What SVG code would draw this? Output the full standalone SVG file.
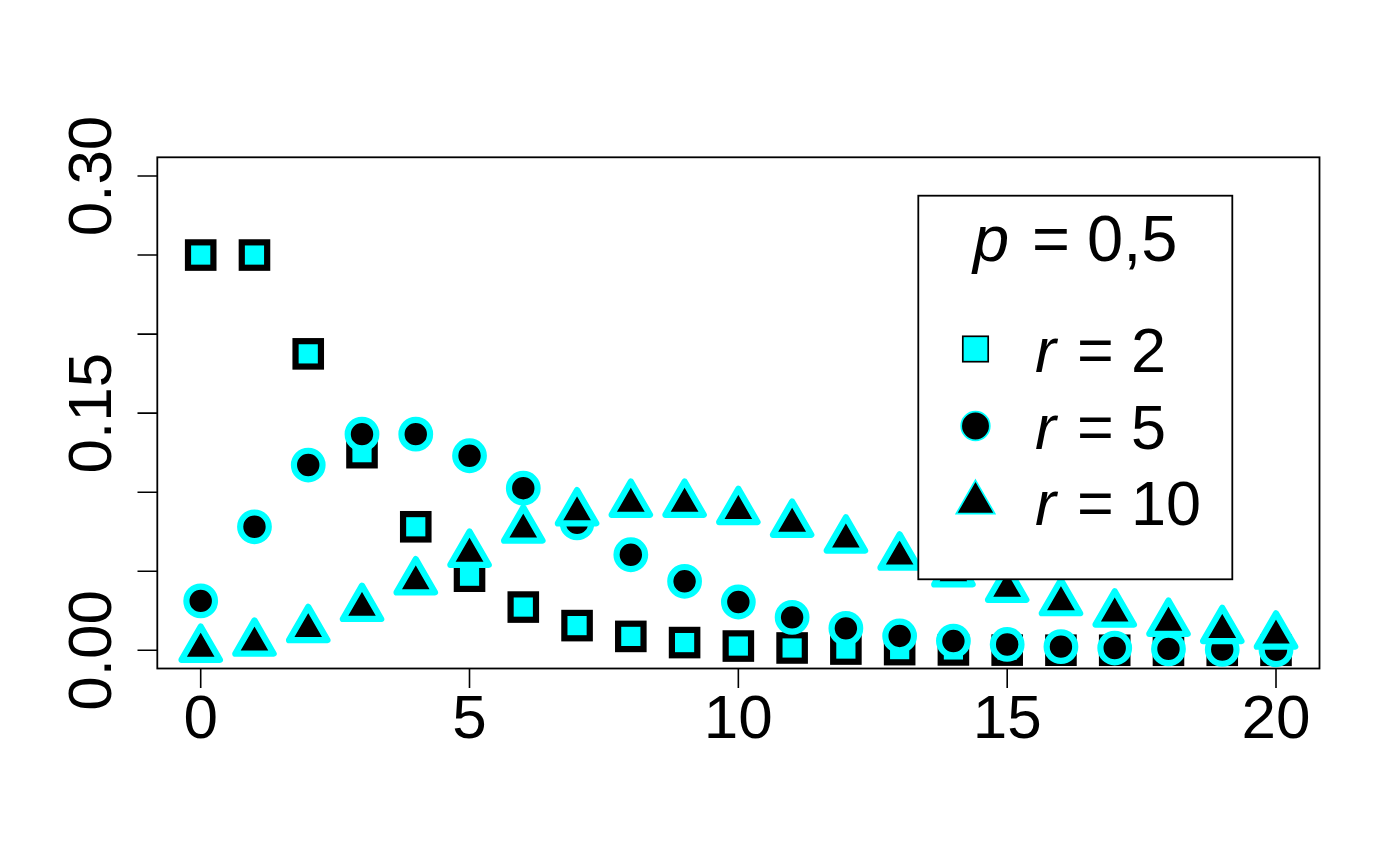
<svg xmlns="http://www.w3.org/2000/svg" xmlns:xlink="http://www.w3.org/1999/xlink" width="1400" height="865" viewBox="0 0 1400 865">
<style>
text{font-family:"Liberation Sans",Arial,Helvetica,sans-serif;fill:#000}
.tick{stroke:#000;stroke-width:1.6;fill:none}
.box{stroke:#000;stroke-width:1.8;fill:none}
.lab{font-size:62px}
.leg{font-size:63px}
.ttl{font-size:65px}
.it{font-style:italic}
.sq{fill:#00FFFF;stroke:#000;stroke-width:6.2;stroke-linejoin:miter}
.ci{fill:#000;stroke:#00FFFF;stroke-width:6.2}
.tr{fill:#000;stroke:#00FFFF;stroke-width:6.2;stroke-linejoin:round}
.lsq{fill:#00FFFF;stroke:#000;stroke-width:1.7}
.lci{fill:#000;stroke:#00FFFF;stroke-width:1.7}
.ltr{fill:#000;stroke:#00FFFF;stroke-width:1.7}
</style>
<defs>
<rect id="msq" x="-12.7" y="-12.7" width="25.4" height="25.4"/>
<circle id="mci" cx="0" cy="0" r="14.3"/>
<polygon id="mtr" points="0,-22.2 19.2,11.1 -19.2,11.1"/>
</defs>
<rect x="0" y="0" width="1400" height="865" fill="#fff"/>

<g id="axes">
<rect class="box" x="157.3" y="157.3" width="1162.2" height="511.2"/>
<path class="tick" d="M200.7,668.5V688 M469.5,668.5V688 M738.35,668.5V688 M1007.2,668.5V688 M1276,668.5V688"/>
<path class="tick" d="M157.3,650.3H137.5 M157.3,571.25H137.5 M157.3,492.2H137.5 M157.3,413.15H137.5 M157.3,334.1H137.5 M157.3,255.05H137.5 M157.3,176H137.5"/>
<g class="lab" text-anchor="middle">
<text x="200.7" y="738">0</text>
<text x="469.5" y="738">5</text>
<text x="738.35" y="738">10</text>
<text x="1007.2" y="738">15</text>
<text x="1276" y="738">20</text>
<text transform="translate(111,650.3) rotate(-90)">0.00</text>
<text transform="translate(111,413.15) rotate(-90)">0.15</text>
<text transform="translate(111,176) rotate(-90)">0.30</text>
</g>
</g>

<g id="series-r2" class="sq">
<use xlink:href="#msq" x="200.7" y="255.05"/>
<use xlink:href="#msq" x="254.47" y="255.05"/>
<use xlink:href="#msq" x="308.23" y="353.86"/>
<use xlink:href="#msq" x="362" y="452.68"/>
<use xlink:href="#msq" x="415.76" y="526.78"/>
<use xlink:href="#msq" x="469.53" y="576.19"/>
<use xlink:href="#msq" x="523.29" y="607.07"/>
<use xlink:href="#msq" x="577.06" y="625.6"/>
<use xlink:href="#msq" x="630.82" y="636.4"/>
<use xlink:href="#msq" x="684.59" y="642.58"/>
<use xlink:href="#msq" x="738.35" y="646.05"/>
<use xlink:href="#msq" x="792.12" y="647.98"/>
<use xlink:href="#msq" x="845.88" y="649.05"/>
<use xlink:href="#msq" x="899.65" y="649.62"/>
<use xlink:href="#msq" x="953.41" y="649.94"/>
<use xlink:href="#msq" x="1007.18" y="650.11"/>
<use xlink:href="#msq" x="1060.94" y="650.2"/>
<use xlink:href="#msq" x="1114.71" y="650.25"/>
<use xlink:href="#msq" x="1168.47" y="650.27"/>
<use xlink:href="#msq" x="1222.24" y="650.29"/>
<use xlink:href="#msq" x="1276" y="650.29"/>
</g>

<g id="series-r5" class="ci">
<use xlink:href="#mci" x="200.7" y="600.89"/>
<use xlink:href="#mci" x="254.47" y="526.78"/>
<use xlink:href="#mci" x="308.23" y="465.03"/>
<use xlink:href="#mci" x="362" y="434.15"/>
<use xlink:href="#mci" x="415.76" y="434.15"/>
<use xlink:href="#mci" x="469.53" y="455.76"/>
<use xlink:href="#mci" x="523.29" y="488.18"/>
<use xlink:href="#mci" x="577.06" y="522.92"/>
<use xlink:href="#mci" x="630.82" y="554.77"/>
<use xlink:href="#mci" x="684.59" y="581.3"/>
<use xlink:href="#mci" x="738.35" y="602"/>
<use xlink:href="#mci" x="792.12" y="617.37"/>
<use xlink:href="#mci" x="845.88" y="628.35"/>
<use xlink:href="#mci" x="899.65" y="635.95"/>
<use xlink:href="#mci" x="953.41" y="641.07"/>
<use xlink:href="#mci" x="1007.18" y="644.46"/>
<use xlink:href="#mci" x="1060.94" y="646.65"/>
<use xlink:href="#mci" x="1114.71" y="648.04"/>
<use xlink:href="#mci" x="1168.47" y="648.92"/>
<use xlink:href="#mci" x="1222.24" y="649.47"/>
<use xlink:href="#mci" x="1276" y="649.8"/>
</g>

<g id="series-r10" class="tr">
<use xlink:href="#mtr" x="200.7" y="648.76"/>
<use xlink:href="#mtr" x="254.47" y="642.58"/>
<use xlink:href="#mtr" x="308.23" y="629.07"/>
<use xlink:href="#mtr" x="362" y="607.84"/>
<use xlink:href="#mtr" x="415.76" y="581.3"/>
<use xlink:href="#mtr" x="469.53" y="553.71"/>
<use xlink:href="#mtr" x="523.29" y="529.56"/>
<use xlink:href="#mtr" x="577.06" y="512.31"/>
<use xlink:href="#mtr" x="630.82" y="503.69"/>
<use xlink:href="#mtr" x="684.59" y="503.69"/>
<use xlink:href="#mtr" x="738.35" y="511.01"/>
<use xlink:href="#mtr" x="792.12" y="523.68"/>
<use xlink:href="#mtr" x="845.88" y="539.5"/>
<use xlink:href="#mtr" x="899.65" y="556.55"/>
<use xlink:href="#mtr" x="953.41" y="573.29"/>
<use xlink:href="#mtr" x="1007.18" y="588.69"/>
<use xlink:href="#mtr" x="1060.94" y="602.17"/>
<use xlink:href="#mtr" x="1114.71" y="613.5"/>
<use xlink:href="#mtr" x="1168.47" y="622.7"/>
<use xlink:href="#mtr" x="1222.24" y="629.96"/>
<use xlink:href="#mtr" x="1276" y="635.55"/>
</g>

<g id="legend">
<rect x="918.3" y="195.7" width="314" height="383.6" fill="#fff" stroke="#000" stroke-width="1.8"/>
<text class="ttl" y="261"><tspan class="it" x="973">p</tspan><tspan x="1032">=</tspan><tspan x="1087">0,5</tspan></text>
<use class="lsq" xlink:href="#msq" x="975.5" y="349"/>
<use class="lci" xlink:href="#mci" x="975.5" y="426"/>
<use class="ltr" xlink:href="#mtr" x="975.5" y="502.5"/>
<text class="leg" y="372"><tspan class="it" x="1035">r</tspan><tspan x="1077">=</tspan><tspan x="1131">2</tspan></text>
<text class="leg" y="448.5"><tspan class="it" x="1035">r</tspan><tspan x="1077">=</tspan><tspan x="1131">5</tspan></text>
<text class="leg" y="525"><tspan class="it" x="1035">r</tspan><tspan x="1077">=</tspan><tspan x="1131">10</tspan></text>
</g>
</svg>
